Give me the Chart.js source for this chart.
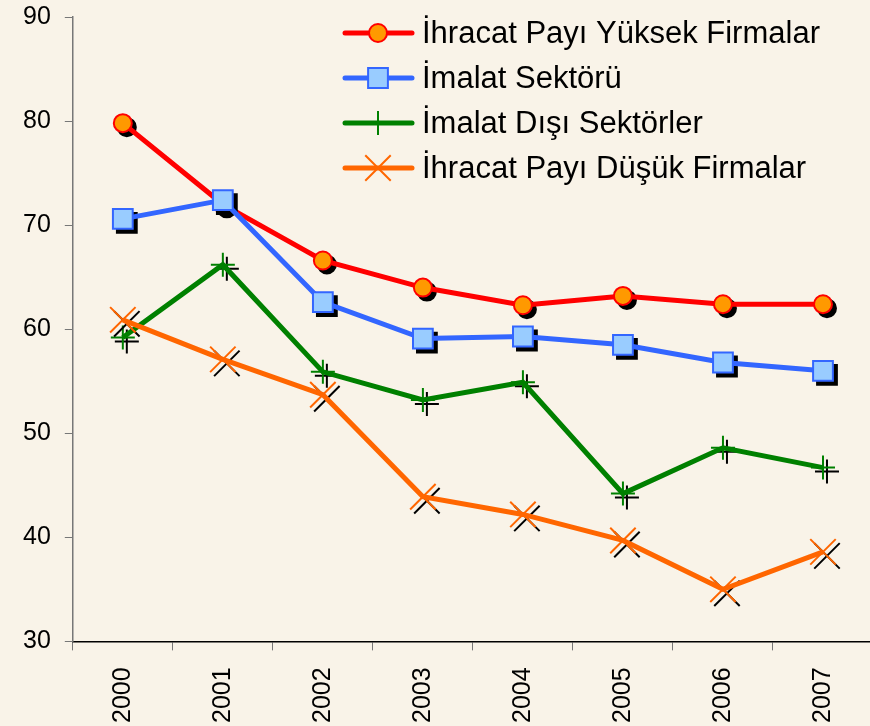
<!DOCTYPE html>
<html>
<head>
<meta charset="utf-8">
<script src="https://cdn.jsdelivr.net/npm/chart.js@4/dist/chart.umd.min.js"></script>
<style>
  html, body { margin: 0; padding: 0; background: #F9F3E8; overflow: hidden; }
  body { width: 870px; height: 726px; position: relative; }
  #wrap { position: absolute; left: 0; top: -12px; width: 893px; height: 746px; }
</style>
</head>
<body>
<div id="wrap"><canvas id="chart"></canvas></div>
<script>
const years = ['2000', '2001', '2002', '2003', '2004', '2005', '2006', '2007'];
const seriesNames = [
    'İhracat Payı Yüksek Firmalar',
    'İmalat Sektörü',
    'İmalat Dışı Sektörler',
    'İhracat Payı Düşük Firmalar'
];
const ihracatYuksek = [79.8, 72.0, 66.6, 64.0, 62.3, 63.2, 62.4, 62.4];
const imalat = [70.6, 72.4, 62.6, 59.1, 59.3, 58.5, 56.8, 56.0];
const imalatDisi = [59.2, 66.2, 55.9, 53.2, 54.9, 44.2, 48.6, 46.7];
const ihracatDusuk = [60.9, 57.1, 53.7, 43.9, 42.2, 39.7, 35.0, 38.6];
const yTicks = [30, 40, 50, 60, 70, 80, 90];

const FONT = '"Liberation Sans", Arial, sans-serif';
const SHIFT_Y = 12; // canvas is moved up by this much

const styles = [
    { line: '#FF0000', fill: '#FF9900', border: '#FF0000', point: 'circle', radius: 9, bw: 2 },
    { line: '#3366FF', fill: '#99CCFF', border: '#3366FF', point: 'rect', radius: 14, bw: 2 },
    { line: '#008000', fill: '#008000', border: '#008000', point: 'cross', radius: 12, bw: 2 },
    { line: '#FF6600', fill: '#FF6600', border: '#FF6600', point: 'crossRot', radius: 18, bw: 2 }
];
const values = [ihracatYuksek, imalat, imalatDisi, ihracatDusuk];

// black drop shadow under the markers
const markerShadow = {
    id: 'markerShadow',
    beforeDatasetDraw(chart, args) {
        const ctx = chart.ctx;
        const st = styles[args.index];
        ctx.save();
        ctx.fillStyle = '#000';
        ctx.strokeStyle = '#000';
        ctx.lineWidth = st.bw;
        args.meta.data.forEach((el) => {
            Chart.helpers.drawPoint(ctx, {
                pointStyle: st.point, radius: st.radius, rotation: 0, borderWidth: st.bw
            }, el.x + 4, el.y + 4);
        });
        ctx.restore();
    }
};

// legend: line with marker in the middle, like the spreadsheet one
const lineLegend = {
    id: 'lineLegend',
    afterDraw(chart) {
        const ctx = chart.ctx;
        ctx.save();
        seriesNames.forEach((name, i) => {
            const st = styles[i];
            const y = 33 + SHIFT_Y + i * 45;
            ctx.strokeStyle = st.line;
            ctx.lineWidth = 5;
            ctx.lineCap = 'round';
            ctx.beginPath();
            ctx.moveTo(345, y);
            ctx.lineTo(412, y);
            ctx.stroke();
            ctx.lineCap = 'butt';
            ctx.fillStyle = st.fill;
            ctx.strokeStyle = st.border;
            ctx.lineWidth = st.bw;
            Chart.helpers.drawPoint(ctx, {
                pointStyle: st.point, radius: st.radius, rotation: 0, borderWidth: st.bw
            }, 378, y);
            ctx.fillStyle = '#000';
            ctx.font = '31px ' + FONT;
            ctx.textBaseline = 'middle';
            ctx.textAlign = 'left';
            ctx.fillText(name, 422, y + 1);
        });
        ctx.restore();
    }
};

new Chart(document.getElementById('chart'), {
    type: 'line',
    data: {
        labels: years,
        datasets: values.map((v, i) => ({
            label: seriesNames[i],
            data: v,
            order: values.length - i,
            borderColor: styles[i].line,
            borderWidth: 5,
            tension: 0,
            fill: false,
            pointStyle: styles[i].point,
            pointRadius: styles[i].radius,
            pointHoverRadius: styles[i].radius,
            pointBackgroundColor: styles[i].fill,
            pointBorderColor: styles[i].border,
            pointBorderWidth: styles[i].bw
        }))
    },
    options: {
        responsive: true,
        maintainAspectRatio: false,
        animation: false,
        layout: { padding: { left: 9, top: -8, right: -20, bottom: -6 } },
        plugins: { legend: { display: false }, tooltip: { enabled: false } },
        scales: {
            x: {
                offset: true,
                grid: { offset: true, drawOnChartArea: false, drawTicks: true, tickLength: 9, color: '#777' },
                border: { color: '#000', width: 1.5 },
                ticks: { minRotation: 90, maxRotation: 90, padding: 17, color: '#000', font: { family: FONT, size: 25 } }
            },
            y: {
                min: 30,
                max: 90,
                afterBuildTicks(axis) { axis.ticks = yTicks.map((v) => ({ value: v })); },
                grid: { drawOnChartArea: false, drawTicks: true, tickLength: 8, color: '#777' },
                border: { color: '#777', width: 1.5 },
                ticks: { padding: 14, color: '#000', font: { family: FONT, size: 25 } }
            }
        }
    },
    plugins: [markerShadow, lineLegend]
});
</script>
</body>
</html>
